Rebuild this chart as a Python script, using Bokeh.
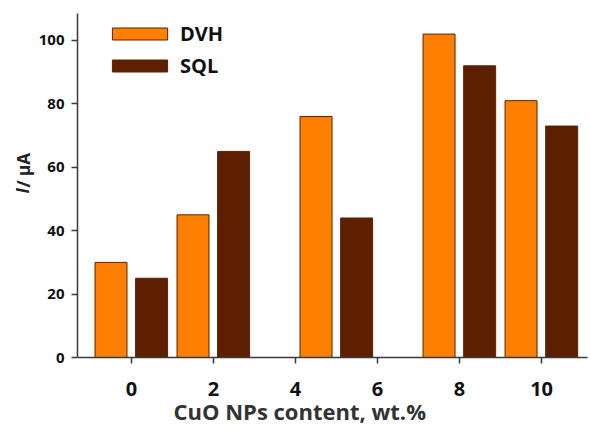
from bokeh.plotting import figure
from bokeh.models import ColumnDataSource, Legend, LegendItem, Title, FixedTicker, Range1d
from bokeh.transform import dodge
from bokeh.embed import file_html
from bokeh.resources import INLINE

# data
content = [0, 2, 5, 8, 10]
dvh = [30, 45, 76, 102, 81]
sql = [25, 65, 44, 92, 73]
x_ticks = [0, 2, 4, 6, 8, 10]
y_ticks = [0, 20, 40, 60, 80, 100]

ORANGE = "#FF8000"
BROWN = "#5E1F00"
EDGE = "#5A2200"
FONT = "Open Sans"

src = ColumnDataSource(dict(x=content, dvh=dvh, sql=sql))

p = figure(width=590, height=430, output_backend="svg", toolbar_location=None,
           x_range=Range1d(-1.317, 11.12), y_range=Range1d(0, 108.5),
           min_border_left=77, min_border_right=3, min_border_top=13,
           min_border_bottom=73)
p.outline_line_color = None
p.grid.visible = False
p.background_fill_color = "white"
p.border_fill_color = "white"

r1 = p.vbar(x=dodge("x", -0.5, range=p.x_range), top="dvh", width=0.78, source=src,
            fill_color=ORANGE, line_color=EDGE, line_width=1)
r2 = p.vbar(x=dodge("x", 0.49, range=p.x_range), top="sql", width=0.78, source=src,
            fill_color=BROWN, line_color=EDGE, line_width=1)

for ax in (p.xaxis[0], p.yaxis[0]):
    ax.axis_line_color = "#3a3a3a"
    ax.axis_line_width = 1.5
    ax.major_tick_line_color = "#3a3a3a"
    ax.major_tick_line_width = 1.5
    ax.major_tick_in = 0
    ax.major_tick_out = 6
    ax.minor_tick_line_color = None
    ax.major_label_text_font = FONT
    ax.major_label_text_font_style = "bold"
    ax.major_label_text_color = "#111111"

p.xaxis.ticker = FixedTicker(ticks=x_ticks)
p.yaxis.ticker = FixedTicker(ticks=y_ticks)
p.xaxis.major_label_text_font_size = "20px"
p.yaxis.major_label_text_font_size = "15px"
p.xaxis.major_label_standoff = 18
p.yaxis.major_label_standoff = 7

# x-axis title (sits left of the frame centre, as in the reference)
p.add_layout(Title(text="CuO NPs content, wt.%", align="left", offset=96,
                   vertical_align="bottom", standoff=-10,
                   text_font=FONT, text_font_style="bold", text_font_size="22px",
                   text_color="#333333"), "below")

# blank spacer between the y axis and its title
p.add_layout(Title(text=" ", text_font=FONT, text_font_size="10px",
                   standoff=-3), "left")

# y-axis title: "/ μA" upright and an italic "I", drawn in one column
p.add_layout(Title(text="/ μA", align="left", offset=170,
                   vertical_align="bottom", standoff=-24,
                   text_font=FONT, text_font_style="bold", text_font_size="17px",
                   text_color="#222222"), "left")
p.add_layout(Title(text="I", align="left", offset=164,
                   vertical_align="bottom", standoff=-24,
                   text_font=FONT, text_font_style="bold italic",
                   text_font_size="17px", text_color="#222222"), "left")

legend = Legend(items=[LegendItem(label="DVH", renderers=[r1]),
                       LegendItem(label="SQL", renderers=[r2])],
                location=(28, 276), orientation="vertical",
                glyph_width=69, glyph_height=15, label_height=32, spacing=0,
                label_standoff=6, padding=0, margin=0,
                border_line_color=None, background_fill_alpha=0,
                label_text_font=FONT, label_text_font_style="bold",
                label_text_font_size="20px", label_text_color="#111111")
p.add_layout(legend)

open("out.html", "w").write(file_html(p, INLINE))
